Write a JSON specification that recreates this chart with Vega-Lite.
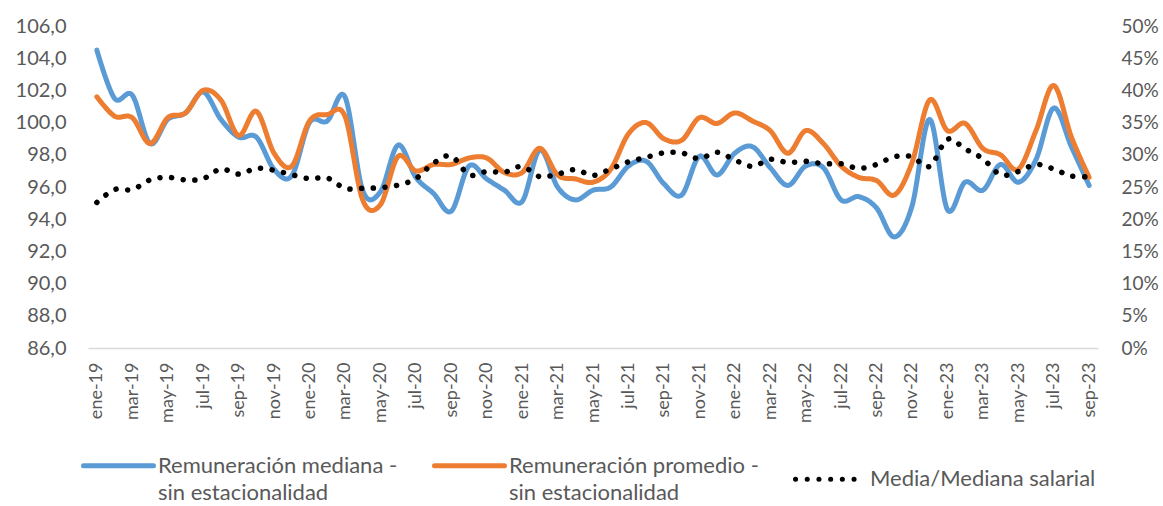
{
  "$schema": "https://vega.github.io/schema/vega-lite/v6.json",
  "autosize": {"type": "none"},
  "padding": {"left": 88, "top": 26, "right": 65, "bottom": 158},
  "width": 1010,
  "height": 322,
  "background": "white",
  "config": {
    "view": {"stroke": null},
    "axis": {"grid": false, "ticks": false, "labelFont": "Lato", "labelColor": "#595959", "title": null, "labelOverlap": false}
  },
  "data": {"values": [
    {"mes": "ene-19", "med": 104.5, "prom": 101.6, "ratio": 22.6},
    {"mes": "feb-19", "med": 101.5, "prom": 100.4, "ratio": 24.6},
    {"mes": "mar-19", "med": 101.7, "prom": 100.3, "ratio": 24.6},
    {"mes": "abr-19", "med": 98.7, "prom": 98.7, "ratio": 26.1},
    {"mes": "may-19", "med": 100.2, "prom": 100.3, "ratio": 26.5},
    {"mes": "jun-19", "med": 100.6, "prom": 100.6, "ratio": 26.1},
    {"mes": "jul-19", "med": 101.9, "prom": 102.0, "ratio": 26.3},
    {"mes": "ago-19", "med": 100.2, "prom": 101.4, "ratio": 27.8},
    {"mes": "sep-19", "med": 99.1, "prom": 99.2, "ratio": 27.0},
    {"mes": "oct-19", "med": 99.1, "prom": 100.7, "ratio": 27.9},
    {"mes": "nov-19", "med": 97.1, "prom": 98.1, "ratio": 27.6},
    {"mes": "dic-19", "med": 96.7, "prom": 97.3, "ratio": 26.9},
    {"mes": "ene-20", "med": 100.0, "prom": 100.1, "ratio": 26.3},
    {"mes": "feb-20", "med": 100.1, "prom": 100.5, "ratio": 26.4},
    {"mes": "mar-20", "med": 101.6, "prom": 100.4, "ratio": 24.8},
    {"mes": "abr-20", "med": 95.8, "prom": 95.2, "ratio": 24.8},
    {"mes": "may-20", "med": 95.7, "prom": 94.9, "ratio": 24.9},
    {"mes": "jun-20", "med": 98.6, "prom": 97.9, "ratio": 25.3},
    {"mes": "jul-20", "med": 96.6, "prom": 97.0, "ratio": 26.3},
    {"mes": "ago-20", "med": 95.6, "prom": 97.4, "ratio": 28.7},
    {"mes": "sep-20", "med": 94.5, "prom": 97.4, "ratio": 29.8},
    {"mes": "oct-20", "med": 97.3, "prom": 97.8, "ratio": 26.9},
    {"mes": "nov-20", "med": 96.5, "prom": 97.8, "ratio": 27.4},
    {"mes": "dic-20", "med": 95.8, "prom": 96.9, "ratio": 27.3},
    {"mes": "ene-21", "med": 95.1, "prom": 96.9, "ratio": 28.2},
    {"mes": "feb-21", "med": 98.3, "prom": 98.4, "ratio": 26.6},
    {"mes": "mar-21", "med": 96.0, "prom": 96.75, "ratio": 27.0},
    {"mes": "abr-21", "med": 95.2, "prom": 96.5, "ratio": 27.7},
    {"mes": "may-21", "med": 95.8, "prom": 96.3, "ratio": 26.8},
    {"mes": "jun-21", "med": 96.0, "prom": 97.1, "ratio": 27.8},
    {"mes": "jul-21", "med": 97.3, "prom": 99.3, "ratio": 28.9},
    {"mes": "ago-21", "med": 97.6, "prom": 100.0, "ratio": 29.6},
    {"mes": "sep-21", "med": 96.2, "prom": 99.0, "ratio": 30.3},
    {"mes": "oct-21", "med": 95.5, "prom": 98.9, "ratio": 30.3},
    {"mes": "nov-21", "med": 97.9, "prom": 100.3, "ratio": 29.4},
    {"mes": "dic-21", "med": 96.75, "prom": 99.95, "ratio": 30.4},
    {"mes": "ene-22", "med": 98.1, "prom": 100.6, "ratio": 29.2},
    {"mes": "feb-22", "med": 98.5, "prom": 100.1, "ratio": 28.2},
    {"mes": "mar-22", "med": 97.2, "prom": 99.5, "ratio": 29.3},
    {"mes": "abr-22", "med": 96.1, "prom": 98.1, "ratio": 28.8},
    {"mes": "may-22", "med": 97.3, "prom": 99.5, "ratio": 29.0},
    {"mes": "jun-22", "med": 97.2, "prom": 98.7, "ratio": 28.6},
    {"mes": "jul-22", "med": 95.2, "prom": 97.3, "ratio": 28.6},
    {"mes": "ago-22", "med": 95.4, "prom": 96.6, "ratio": 27.9},
    {"mes": "sep-22", "med": 94.7, "prom": 96.4, "ratio": 28.5},
    {"mes": "oct-22", "med": 92.9, "prom": 95.5, "ratio": 29.7},
    {"mes": "nov-22", "med": 94.8, "prom": 97.5, "ratio": 29.7},
    {"mes": "dic-22", "med": 100.2, "prom": 101.4, "ratio": 28.2},
    {"mes": "ene-23", "med": 94.6, "prom": 99.5, "ratio": 32.4},
    {"mes": "feb-23", "med": 96.3, "prom": 99.95, "ratio": 30.9},
    {"mes": "mar-23", "med": 95.8, "prom": 98.4, "ratio": 29.4},
    {"mes": "abr-23", "med": 97.4, "prom": 98.0, "ratio": 26.9},
    {"mes": "may-23", "med": 96.3, "prom": 97.1, "ratio": 27.4},
    {"mes": "jun-23", "med": 97.7, "prom": 99.5, "ratio": 28.5},
    {"mes": "jul-23", "med": 100.9, "prom": 102.3, "ratio": 27.8},
    {"mes": "ago-23", "med": 98.5, "prom": 99.1, "ratio": 26.7},
    {"mes": "sep-23", "med": 96.1, "prom": 96.6, "ratio": 26.6}
  ]},
  "encoding": {
    "x": {
      "field": "mes", "type": "ordinal", "sort": null,
      "scale": {"type": "point", "padding": 0.5},
      "axis": {
        "values": ["ene-19","mar-19","may-19","jul-19","sep-19","nov-19","ene-20","mar-20","may-20","jul-20","sep-20","nov-20","ene-21","mar-21","may-21","jul-21","sep-21","nov-21","ene-22","mar-22","may-22","jul-22","sep-22","nov-22","ene-23","mar-23","may-23","jul-23","sep-23"],
        "labelAngle": -90, "labelFontSize": 18, "labelPadding": 14,
        "domain": true, "domainColor": "#D9D9D9", "domainWidth": 1.5
      }
    }
  },
  "layer": [
    {
      "layer": [
        {
          "mark": {"type": "line", "interpolate": "cardinal", "strokeWidth": 5, "strokeCap": "round", "strokeJoin": "round"},
          "encoding": {
            "y": {"field": "med", "type": "quantitative", "scale": {"domain": [86, 106], "nice": false, "zero": false},
              "axis": {"orient": "left", "values": [86,88,90,92,94,96,98,100,102,104,106], "labelExpr": "replace(format(datum.value, '.1f'), '.', ',')", "labelFontSize": 20, "labelPadding": 22, "labelOverlap": false, "domain": false}},
            "color": {
              "datum": "Remuneración mediana -|sin estacionalidad", "type": "nominal",
              "scale": {
                "domain": ["Remuneración mediana -|sin estacionalidad", "Remuneración promedio -|sin estacionalidad", "Media/Mediana salarial"],
                "range": ["#5B9BD5", "#ED7D31", "#000000"]
              },
              "legend": {
                "orient": "none", "legendX": -7, "legendY": 402, "columns": 3, "direction": "horizontal",
                "symbolType": "stroke", "symbolSize": 4900, "symbolStrokeWidth": 5,
                "labelFont": "Lato", "labelFontSize": 22, "labelColor": "#595959", "labelLimit": 400,
                "labelOffset": 2, "columnPadding": 26, "padding": 0, "title": null,
                "labelExpr": "split(datum.label, '|')",
                "encoding": {"symbols": {"strokeCap": {"value": "round"}}, "labels": {"lineHeight": {"value": 27}}}
              }
            },
            "strokeDash": {
              "datum": "Remuneración mediana -|sin estacionalidad", "type": "nominal",
              "scale": {
                "domain": ["Remuneración mediana -|sin estacionalidad", "Remuneración promedio -|sin estacionalidad", "Media/Mediana salarial"],
                "range": [[1, 0], [1, 0], [0.1, 11.6]]
              },
              "legend": null
            }
          }
        },
        {
          "mark": {"type": "line", "interpolate": "cardinal", "strokeWidth": 5, "strokeCap": "round", "strokeJoin": "round"},
          "encoding": {
            "y": {"field": "prom", "type": "quantitative", "scale": {"domain": [86, 106], "nice": false, "zero": false},
              "axis": {"orient": "left", "values": [86,88,90,92,94,96,98,100,102,104,106], "labelExpr": "replace(format(datum.value, '.1f'), '.', ',')", "labelFontSize": 20, "labelPadding": 22, "labelOverlap": false, "domain": false}},
            "color": {"datum": "Remuneración promedio -|sin estacionalidad", "type": "nominal"},
            "strokeDash": {"datum": "Remuneración promedio -|sin estacionalidad", "type": "nominal"}
          }
        }
      ]
    },
    {
      "mark": {"type": "line", "interpolate": "cardinal", "strokeWidth": 5.5, "strokeCap": "round"},
      "encoding": {
        "y": {"field": "ratio", "type": "quantitative", "scale": {"domain": [0, 50], "nice": false},
          "axis": {"orient": "right", "values": [0,5,10,15,20,25,30,35,40,45,50], "labelExpr": "datum.value + '%'", "labelFontSize": 19, "labelAlign": "left", "labelPadding": 23, "labelOverlap": false, "domain": false}},
        "color": {"datum": "Media/Mediana salarial", "type": "nominal"},
        "strokeDash": {"datum": "Media/Mediana salarial", "type": "nominal"}
      }
    }
  ],
  "resolve": {"scale": {"y": "independent"}}
}
